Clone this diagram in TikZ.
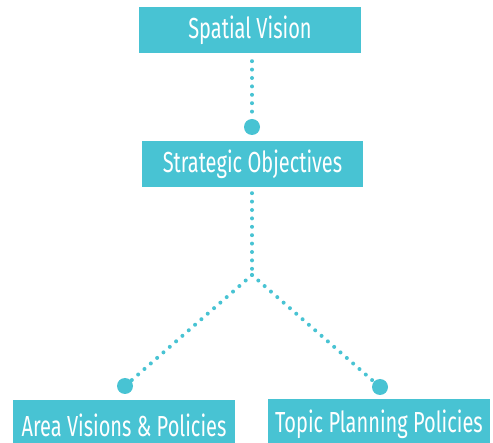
\documentclass[tikz,border=0pt]{standalone}
\usepackage{fontspec}
\setmainfont{Fira Sans}[FakeStretch=0.69]
\definecolor{teal}{HTML}{48C3D3}
\begin{document}
\begin{tikzpicture}[x=1pt,y=-1pt,
  box/.style={fill=teal,text=white,inner sep=0pt,minimum width=222pt,minimum height=46pt,font=\fontsize{29}{31}\selectfont},
  dotline/.style={draw=teal,line width=4pt,line cap=round,dash pattern=on 0pt off 8.4pt},
  knob/.style={circle,fill=teal,inner sep=0pt,minimum size=16pt}]
\useasboundingbox (0,0) rectangle (493,443);
\node[box] (sv) at (250,30) {Spatial Vision};
\node[box,minimum width=221pt] (so) at (252.5,164) {Strategic Objectives};
\node[box,minimum height=50pt] (av) at (124,425) {Area Visions \& Policies};
\node[box,minimum height=50pt] (tp) at (379,424) {Topic Planning Policies};
\node[knob] (k1) at (252,127) {};
\node[knob] (k2) at (125,386) {};
\node[knob] (k3) at (380,387) {};
\coordinate (j) at (252,275);
\draw[dotline,shorten <=8pt] (sv.south -| k1) -- (k1);
\draw[dotline,shorten <=6pt] (so.south -| j) -- (j);
\draw[dotline] (j) -- (k2);
\draw[dotline] (j) -- (k3);
\end{tikzpicture}
\end{document}
